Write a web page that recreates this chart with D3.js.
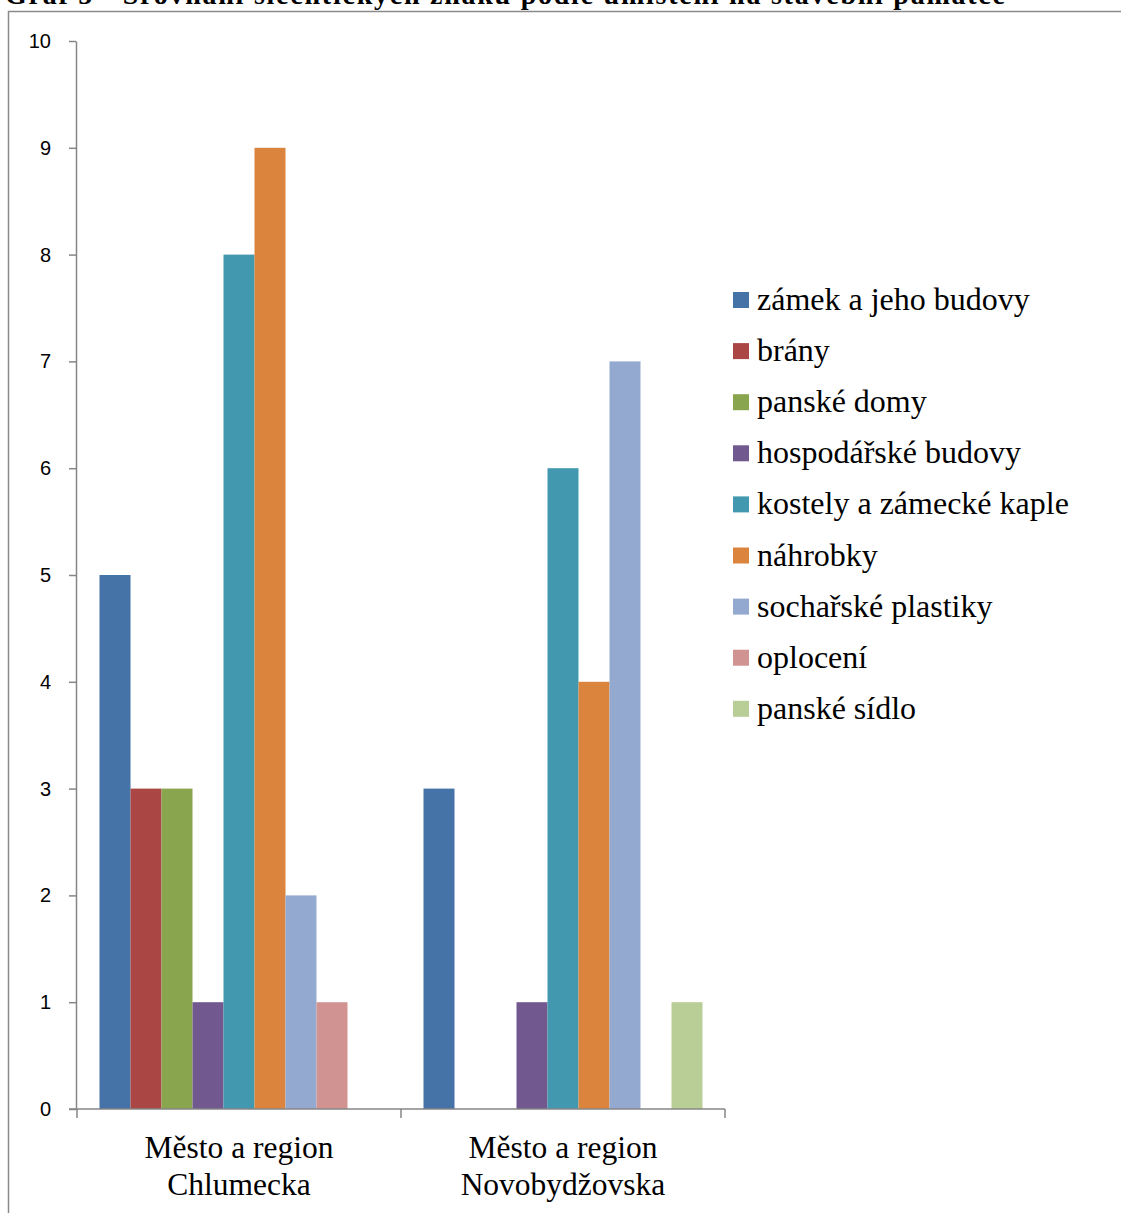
<!DOCTYPE html>
<html>
<head>
<meta charset="utf-8">
<script src="https://cdn.jsdelivr.net/npm/d3@7"></script>
<style>
  body { margin: 0; background: #fff; }
  svg { display: block; }
</style>
</head>
<body>
<div id="chart"></div>
<script>
var width = 1121, height = 1213;

var categories = ["Město a region|Chlumecka", "Město a region|Novobydžovska"];
var series = ["zámek a jeho budovy", "brány", "panské domy", "hospodářské budovy",
    "kostely a zámecké kaple", "náhrobky", "sochařské plastiky", "oplocení", "panské sídlo"];
var chlumecka = [5, 3, 3, 1, 8, 9, 2, 1, 0];
var novobydzovska = [3, 0, 0, 1, 6, 4, 7, 0, 1];
var colors = ["#4572A7", "#AA4643", "#89A54E", "#71588F", "#4198AF", "#DB843D", "#93A9CF", "#D19392", "#B9CD96"];
var yTicks = [0, 1, 2, 3, 4, 5, 6, 7, 8, 9, 10];

var values = [chlumecka, novobydzovska];

var svg = d3.select("#chart").append("svg")
    .attr("width", width)
    .attr("height", height);

// title, cut at the top edge
svg.append("text")
    .attr("x", 5)
    .attr("y", 4)
    .style("font-family", "'Liberation Serif', 'Times New Roman', serif")
    .style("font-weight", "bold")
    .style("font-size", "28px")
    .attr("textLength", 1000)
    .text("Graf 5 - Srovnání šlechtických znaků podle umístění na stavební památce");

// chart area border (runs off the right and bottom)
svg.append("rect")
    .attr("x", 8.5)
    .attr("y", 11.5)
    .attr("width", 1130)
    .attr("height", 1230)
    .attr("fill", "none")
    .attr("stroke", "#8a8a8a")
    .attr("stroke-width", 1.5);

var plotLeft = 76, plotRight = 725, plotTop = 41, plotBottom = 1109;

var x0 = d3.scaleBand().domain(categories).range([plotLeft + 1, plotRight]);
var gap = 45;
var x1 = d3.scaleBand().domain(series).range([gap / 2, x0.bandwidth() - gap / 2]);
var y = d3.scaleLinear().domain([0, 10]).range([plotBottom, plotTop]);

// bars
var groups = svg.selectAll("g.cat")
    .data(categories)
    .enter().append("g")
    .attr("class", "cat")
    .attr("transform", function (d) { return "translate(" + x0(d) + ",0)"; });

groups.selectAll("rect")
    .data(function (d, i) {
        return series.map(function (s, j) { return { s: s, v: values[i][j], c: colors[j] }; });
    })
    .enter().append("rect")
    .attr("x", function (d) { return x1(d.s); })
    .attr("y", function (d) { return y(d.v); })
    .attr("width", x1.bandwidth())
    .attr("height", function (d) { return plotBottom - y(d.v); })
    .attr("fill", function (d) { return d.c; });

var axisColor = "#868686";

// y axis
var yAxis = svg.append("g")
    .attr("transform", "translate(" + plotLeft + ",0)")
    .call(d3.axisLeft(y).tickValues(yTicks).tickSize(7).tickSizeOuter(0).tickPadding(18).tickFormat(d3.format("d")));
yAxis.select(".domain").attr("stroke", axisColor).attr("stroke-width", 1.5);
yAxis.selectAll(".tick line").attr("stroke", axisColor).attr("stroke-width", 1.5);
yAxis.selectAll(".tick text")
    .attr("fill", "#000")
    .style("font-family", "'Liberation Sans', Arial, sans-serif")
    .style("font-size", "20px");

// x axis
var xAxis = svg.append("g")
    .attr("transform", "translate(0," + plotBottom + ")");
xAxis.append("line")
    .attr("x1", plotLeft - 7).attr("x2", plotRight)
    .attr("y1", 0).attr("y2", 0)
    .attr("stroke", axisColor).attr("stroke-width", 1.5);
var seps = [plotLeft + 1].concat(categories.map(function (c) { return x0(c) + x0.bandwidth(); }));
xAxis.selectAll("line.sep")
    .data(seps)
    .enter().append("line")
    .attr("class", "sep")
    .attr("x1", function (d) { return d; }).attr("x2", function (d) { return d; })
    .attr("y1", 0).attr("y2", 9)
    .attr("stroke", axisColor).attr("stroke-width", 1.5);

var catLabels = xAxis.selectAll("text.cat")
    .data(categories)
    .enter().append("text")
    .attr("class", "cat")
    .attr("text-anchor", "middle")
    .attr("x", function (d) { return x0(d) + x0.bandwidth() / 2; })
    .attr("y", 49)
    .style("font-family", "'Liberation Serif', 'Times New Roman', serif")
    .style("font-size", "31.5px");
catLabels.each(function (d) {
    var t = d3.select(this);
    d.split("|").forEach(function (line, i) {
        t.append("tspan")
            .attr("x", x0(d) + x0.bandwidth() / 2)
            .attr("dy", i === 0 ? 0 : 37)
            .text(line);
    });
});

// legend
var legend = svg.append("g").attr("transform", "translate(733,300)");
var items = legend.selectAll("g")
    .data(series)
    .enter().append("g")
    .attr("transform", function (d, i) { return "translate(0," + (i * 51.1) + ")"; });
items.append("rect")
    .attr("x", 0).attr("y", -8)
    .attr("width", 16).attr("height", 16)
    .attr("fill", function (d, i) { return colors[i]; });
items.append("text")
    .attr("x", 24)
    .attr("y", 10)
    .style("font-family", "'Liberation Serif', 'Times New Roman', serif")
    .style("font-size", "32px")
    .text(function (d) { return d; });
</script>
</body>
</html>
